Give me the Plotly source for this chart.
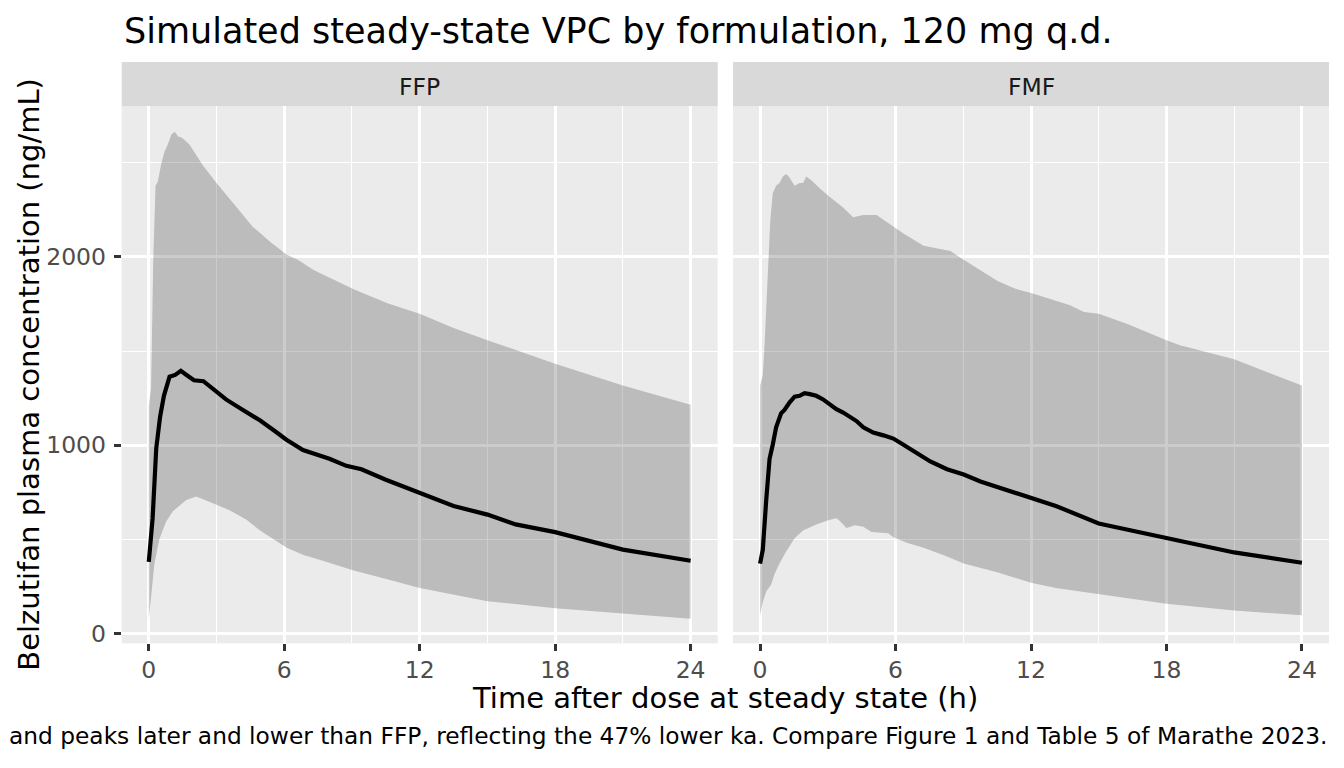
import plotly.graph_objects as go

# FFP formulation: median and 90% prediction interval (ng/mL) vs time (h)
ffp_med_t = [0, 0.17, 0.33, 0.5, 0.67, 0.92, 1.17, 1.42, 1.67, 2.0, 2.42, 2.83, 3.42, 4.17, 4.92,
             5.67, 6.08, 6.83, 7.33, 8.0, 8.75, 9.42, 10.5, 11.5, 12.0, 13.5, 15.0, 16.25, 18.0,
             20.0, 21.0, 24.0]
ffp_med = [380, 612, 983, 1150, 1262, 1364, 1373, 1395, 1373, 1345, 1340, 1299, 1243, 1187, 1132,
           1067, 1030, 974, 955, 928, 890, 872, 816, 770, 742, 677, 631, 579, 538,
           473, 445, 386]
ffp_hi_t = [0, 0.1, 0.2, 0.3, 0.4, 0.55, 0.7, 0.85, 1.0, 1.15, 1.3, 1.45, 1.6, 1.8, 2.4, 3.0, 3.9,
            4.6, 5.4, 6.1, 6.6, 7.3, 9.1, 10.6, 12.0, 13.5, 15.0, 16.3, 18.0, 21.0, 24.0]
ffp_hi = [1210, 1300, 2000, 2380, 2400, 2495, 2560, 2600, 2650, 2665, 2640, 2635, 2620, 2597, 2486,
          2393, 2263, 2161, 2078, 2013, 1985, 1930, 1827, 1753, 1698, 1623, 1558, 1503, 1432,
          1317, 1215]
ffp_lo_t = [0, 0.1, 0.25, 0.47, 0.77, 1.07, 1.37, 1.66, 2.1, 2.4, 3.0, 3.6, 3.89, 4.33, 4.93, 5.52,
            6.11, 6.85, 7.6, 9.08, 10.56, 12.0, 15.0, 18.0, 21.0, 24.0]
ffp_lo = [74, 204, 371, 501, 594, 649, 677, 709, 727, 714, 683, 653, 631, 603, 547, 501,
          455, 417, 390, 334, 288, 241, 171, 134, 108, 78]

# FMF formulation
fmf_med_t = [0, 0.12, 0.27, 0.42, 0.56, 0.71, 0.93, 1.08, 1.31, 1.53, 1.75, 1.97, 2.2, 2.49, 2.79,
             3.09, 3.38, 3.68, 3.98, 4.27, 4.57, 5.01, 5.46, 5.9, 6.35, 6.94, 7.54, 8.28, 9.02,
             9.76, 10.5, 11.25, 12.0, 13.1, 15.0, 18.0, 19.3, 21.0, 24.0]
fmf_med = [371, 445, 705, 928, 1002, 1095, 1169, 1187, 1228, 1258, 1262, 1276, 1271, 1262, 1243,
           1215, 1191, 1173, 1147, 1128, 1095, 1067, 1052, 1035, 1002, 955, 913, 872, 844,
           807, 779, 751, 718, 677, 584, 505, 473, 430, 375]
fmf_hi_t = [0, 0.12, 0.2, 0.34, 0.45, 0.56, 0.71, 0.86, 1.01, 1.16, 1.31, 1.53, 1.75, 1.9, 2.05,
            2.27, 2.64, 3.09, 3.68, 4.12, 4.57, 5.16, 5.76, 6.35, 7.24, 8.43, 9.02, 9.76, 10.5,
            11.25, 12.0, 13.7, 14.35, 15.0, 16.3, 18.0, 18.6, 21.0, 24.0]
fmf_hi = [1317, 1373, 1540, 1911, 2189, 2338, 2378, 2393, 2427, 2440, 2421, 2378, 2393, 2393, 2427,
          2408, 2365, 2319, 2263, 2211, 2223, 2223, 2171, 2124, 2059, 2031, 1985, 1930, 1874,
          1833, 1809, 1744, 1707, 1698, 1642, 1558, 1531, 1456, 1317]
fmf_lo_t = [0, 0.12, 0.27, 0.49, 0.64, 0.86, 1.16, 1.53, 1.9, 2.49, 3.09, 3.38, 3.53, 3.83, 4.2,
            4.57, 4.94, 5.68, 5.9, 6.5, 7.24, 8.28, 9.02, 10.5, 12.0, 13.1, 15.0, 18.0, 21.0, 24.0]
fmf_lo = [96, 167, 223, 260, 315, 371, 436, 505, 547, 579, 603, 612, 597, 560, 575,
          566, 538, 532, 510, 482, 455, 408, 371, 325, 269, 241, 208, 158, 121, 96]

facets = ["FFP", "FMF"]
x_ticks = [0, 6, 12, 18, 24]
y_ticks = [0, 1000, 2000]

title = "Simulated steady-state VPC by formulation, 120 mg q.d."
x_title = "Time after dose at steady state (h)"
y_title = "Belzutifan plasma concentration (ng/mL)"
caption = ("and peaks later and lower than FFP, reflecting the 47% lower ka. "
           "Compare Figure 1 and Table 5 of Marathe 2023.")

# the page body adds an 8px margin, so the figure is made smaller and shifted back
OFF = 8
W, H = 1344 - OFF, 768 - OFF
FONT = "DejaVu Sans"


def px(x):
    return (x - OFF) / W


def py(y):
    return 1 - (y - OFF) / H


panel_x = [(121.7, 717.7), (733.0, 1329.0)]
panel_top, panel_bottom = 106.7, 646.7
strip_top = 62.3

fig = go.Figure()

series = [
    (ffp_med_t, ffp_med, ffp_hi_t, ffp_hi, ffp_lo_t, ffp_lo),
    (fmf_med_t, fmf_med, fmf_hi_t, fmf_hi, fmf_lo_t, fmf_lo),
]

for i, (mt, mv, ht, hv, lt, lv) in enumerate(series):
    xa = "x" if i == 0 else "x2"
    ya = "y" if i == 0 else "y2"
    # 90% interval ribbon
    fig.add_trace(go.Scatter(
        x=ht + lt[::-1], y=hv + lv[::-1],
        fill="toself", fillcolor="rgba(0,0,0,0.2)",
        line=dict(width=0), mode="lines",
        xaxis=xa, yaxis=ya, showlegend=False, hoverinfo="skip",
    ))
    # median
    fig.add_trace(go.Scatter(
        x=mt, y=mv, mode="lines",
        line=dict(color="black", width=4.2),
        xaxis=xa, yaxis=ya, showlegend=False,
    ))

axis_common = dict(
    showgrid=True, gridcolor="white", gridwidth=2.8,
    zeroline=False, showline=False,
    tickfont=dict(family=FONT, size=23.5, color="#4D4D4D"),
)

xcommon = dict(
    axis_common,
    range=[-1.2, 25.2], tickvals=x_ticks,
    ticks="outside", ticklen=7, tickwidth=2.8, tickcolor="#333333",
    ticklabelstandoff=-2,
    minor=dict(tick0=0, dtick=3, showgrid=True, gridcolor="white", gridwidth=1.4),
)
ycommon = dict(
    axis_common,
    range=[-53, 2801], tickvals=y_ticks,
    minor=dict(tick0=0, dtick=500, showgrid=True, gridcolor="white", gridwidth=1.4),
)

fig.update_layout(
    width=W, height=H,
    margin=dict(l=0, r=0, t=0, b=0),
    paper_bgcolor="white", plot_bgcolor="#EBEBEB",
    font=dict(family=FONT, color="black"),
    xaxis=dict(xcommon, domain=[px(panel_x[0][0]), px(panel_x[0][1])], anchor="y"),
    xaxis2=dict(xcommon, domain=[px(panel_x[1][0]), px(panel_x[1][1])], anchor="y2"),
    yaxis=dict(ycommon, domain=[py(panel_bottom), py(panel_top)], anchor="x",
               ticks="outside", ticklen=7, tickwidth=2.8, tickcolor="#333333",
               ticklabelstandoff=3),
    yaxis2=dict(ycommon, domain=[py(panel_bottom), py(panel_top)], anchor="x2",
                showticklabels=False, ticks=""),
)

# facet strips
for (x0, x1), label in zip(panel_x, facets):
    fig.add_shape(type="rect", xref="paper", yref="paper",
                  x0=px(x0), x1=px(x1), y0=py(panel_top), y1=py(strip_top),
                  fillcolor="#D9D9D9", line=dict(width=0), layer="below")
    fig.add_annotation(x=px((x0 + x1) / 2), y=py(87), xref="paper", yref="paper",
                       text=label, showarrow=False,
                       font=dict(family=FONT, size=23.5, color="#1A1A1A"),
                       xanchor="center", yanchor="middle")

fig.add_annotation(x=px(121.7), y=py(31), xref="paper", yref="paper", text=title,
                   showarrow=False, xanchor="left", yanchor="middle",
                   font=dict(family=FONT, size=35, color="black"))
fig.add_annotation(x=px((121.7 + 1329) / 2), y=py(702), xref="paper", yref="paper",
                   text=x_title, showarrow=False, xanchor="center", yanchor="middle",
                   font=dict(family=FONT, size=29, color="black"))
fig.add_annotation(x=px(29), y=py((panel_top + panel_bottom) / 2), xref="paper", yref="paper",
                   text=y_title, showarrow=False, textangle=-90,
                   xanchor="center", yanchor="middle",
                   font=dict(family=FONT, size=29, color="black"))
fig.add_annotation(x=px(1329), y=py(739), xref="paper", yref="paper", text=caption,
                   showarrow=False, xanchor="right", yanchor="middle",
                   font=dict(family=FONT, size=23.3, color="black"))

fig.write_html("out.html")
